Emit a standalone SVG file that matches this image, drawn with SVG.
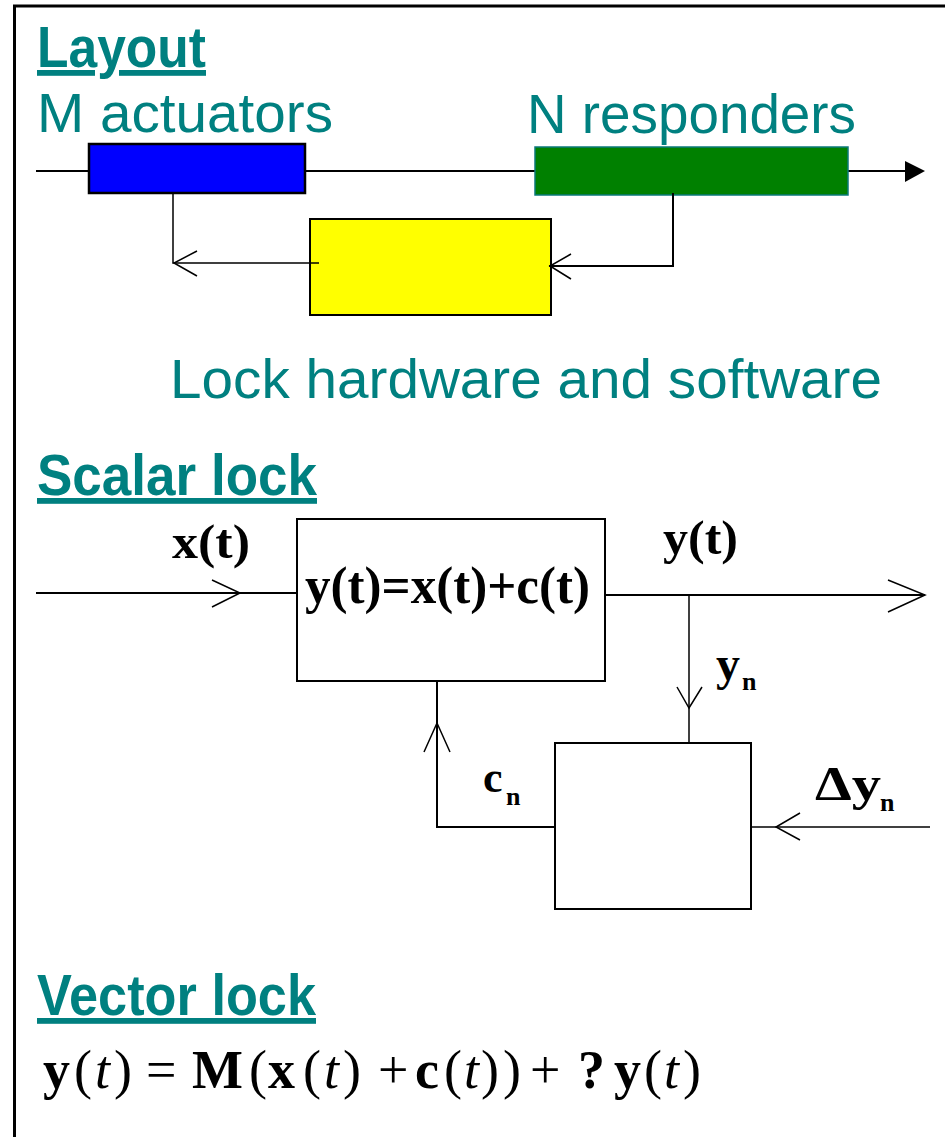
<svg xmlns="http://www.w3.org/2000/svg" width="945" height="1137" viewBox="0 0 945 1137">
<style>
.head{font-family:"Liberation Sans",Arial,sans-serif;font-weight:bold;font-size:58px;fill:#008080;text-decoration:underline}
.lbl{font-family:"Liberation Sans",Arial,sans-serif;font-size:56px;fill:#008080}
.m{font-family:"Liberation Serif","Times New Roman",serif;font-weight:bold;fill:#000}
.eq{font-family:"Liberation Serif","Times New Roman",serif;font-size:54px;fill:#000}
.b{font-weight:bold}
.i{font-style:italic}
.ln{fill:none;stroke:#000;stroke-width:2}
.thin{fill:none;stroke:#000;stroke-width:1.5}
.box{stroke:#000;stroke-width:2}
</style>
<rect x="0" y="0" width="945" height="1137" fill="#fff"/>
<g id="frame">
<line x1="13" y1="6" x2="945" y2="6" stroke="#000" stroke-width="3"/>
<line x1="14.5" y1="5" x2="14.5" y2="1137" stroke="#000" stroke-width="3"/>
</g>
<g id="titles">
<text class="head" x="37" y="67" textLength="169" lengthAdjust="spacingAndGlyphs">Layout</text>
<text class="lbl" x="37" y="132" textLength="296" lengthAdjust="spacingAndGlyphs">M actuators</text>
<text class="lbl" x="527" y="133" textLength="329" lengthAdjust="spacingAndGlyphs">N responders</text>
<text class="lbl" x="170" y="398" textLength="712" lengthAdjust="spacingAndGlyphs">Lock hardware and software</text>
<text class="head" x="37" y="495" textLength="280" lengthAdjust="spacingAndGlyphs">Scalar lock</text>
<text class="head" x="37" y="1015" textLength="279" lengthAdjust="spacingAndGlyphs">Vector lock</text>
</g>
<g id="layout-line">
<line x1="36" y1="171" x2="89" y2="171" class="ln"/>
<line x1="305" y1="171" x2="535" y2="171" class="ln"/>
<line x1="848" y1="171" x2="906" y2="171" class="ln"/>
<polygon points="905,161 925,171 905,182" fill="#000"/>
</g>
<g id="actuators"><rect x="89" y="144" width="216" height="49" fill="#0000FF" stroke="#000" stroke-width="2.5"/></g>
<g id="responders"><rect x="535" y="147" width="313" height="48" fill="#008000" stroke="#0b7a7a" stroke-width="1.5"/></g>
<g id="lock-hw"><rect x="310" y="219" width="241" height="96" fill="#FFFF00" class="box"/></g>
<g id="box-sum"><rect x="297" y="519" width="308" height="162" fill="#fff" class="box"/>
<text class="m" x="305" y="603" font-size="52" textLength="285" lengthAdjust="spacingAndGlyphs">y(t)=x(t)+c(t)</text></g>
<g id="box-ctrl"><rect x="555" y="743" width="196" height="166" fill="#fff" class="box"/></g>
<g id="connectors">
<polyline points="173,193 173,263 319,263" class="thin"/>
<polyline points="197,251 174,263 197,276" class="thin"/>
<polyline points="673,193 673,266 549,266" class="ln"/>
<polyline points="571,254 550,266 571,279" class="thin"/>
<line x1="36" y1="593" x2="297" y2="593" class="ln"/>
<polyline points="212,580 240,593 212,607" class="thin"/>
<line x1="605" y1="595" x2="925" y2="595" class="ln"/>
<polyline points="888,580 925,595 888,612" class="thin"/>
<line x1="689" y1="595" x2="689" y2="743" class="thin"/>
<polyline points="677,687 689,708 702,687" class="thin"/>
<polyline points="555,827 437,827 437,681" class="ln"/>
<polyline points="424,752 437,723 450,752" class="thin"/>
<line x1="930" y1="827" x2="751" y2="827" class="thin"/>
<polyline points="800,813 776,827 800,840" class="thin"/>
</g>
<g id="labels">
<text class="m" x="172" y="558" font-size="48" textLength="78" lengthAdjust="spacingAndGlyphs">x(t)</text>
<text class="m" x="663" y="554" font-size="48" textLength="75" lengthAdjust="spacingAndGlyphs">y(t)</text>
<text class="m" x="716" y="680" font-size="48">y<tspan x="742" y="690" font-size="26">n</tspan></text>
<text class="m" x="483" y="792" font-size="44">c<tspan x="506" y="805" font-size="26">n</tspan></text>
<text class="m" x="815" y="800" font-size="48"><tspan textLength="66" lengthAdjust="spacingAndGlyphs">Δy</tspan><tspan x="880" y="811" font-size="26">n</tspan></text>
</g>
<g id="equation">
<text class="eq" y="1088"><tspan class="b" x="43">y</tspan><tspan x="74">(</tspan><tspan class="i" x="95">t</tspan><tspan x="114">)</tspan><tspan x="146">=</tspan><tspan class="b" x="192">M</tspan><tspan class="b" x="268">x</tspan><tspan x="303">(</tspan><tspan class="i" x="324">t</tspan><tspan x="343">)</tspan><tspan x="378">+</tspan><tspan class="b" x="415">c</tspan><tspan x="444">(</tspan><tspan class="i" x="464">t</tspan><tspan x="481">)</tspan><tspan x="530">+</tspan><tspan class="b" x="578">?</tspan><tspan class="b" x="614">y</tspan><tspan x="644">(</tspan><tspan class="i" x="664">t</tspan><tspan x="683">)</tspan></text>
<text class="eq" y="1088" font-size="74"><tspan x="249">(</tspan><tspan x="503">)</tspan></text>
</g>
</svg>
